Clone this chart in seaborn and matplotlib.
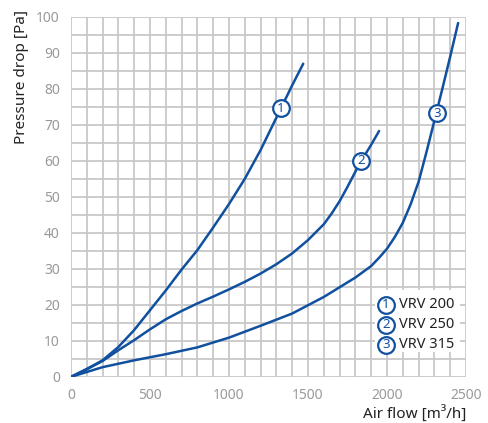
"""
Pressure drop vs. air flow for VRV 200 / 250 / 315 dampers
"""

import matplotlib
matplotlib.use("Agg")
import matplotlib.pyplot as plt
from matplotlib.patches import Rectangle
import numpy as np
import pandas as pd
import seaborn as sns

# Werte
flow_200 = [0, 100, 200, 300, 400, 500, 600, 700, 800, 900, 1000, 1100, 1200, 1250, 1300,
            1350, 1400, 1470]
dp_200 = [0, 2.2, 4.6, 8.3, 13, 18.5, 24, 29.8, 35.2, 41.5, 48, 55, 63, 67.5, 72,
          76.5, 81, 87]

flow_250 = [0, 100, 200, 300, 400, 500, 600, 700, 800, 900, 1000, 1100, 1200, 1300, 1400,
            1500, 1600, 1650, 1700, 1750, 1800, 1840, 1900, 1950]
dp_250 = [0, 2.1, 4.4, 7.4, 10.2, 13.2, 16, 18.3, 20.4, 22.3, 24.3, 26.4, 28.7, 31.3, 34.3,
          38, 42.4, 45.4, 48.8, 52.8, 57, 60.2, 64.5, 68.3]

flow_315 = [0, 200, 400, 600, 800, 1000, 1200, 1400, 1600, 1800, 1900, 1950, 2000, 2050,
            2100, 2150, 2200, 2250, 2300, 2350, 2400, 2450]
dp_315 = [0, 2.7, 4.6, 6.3, 8.2, 10.9, 14.2, 17.6, 22.2, 27.6, 30.8, 33.1, 35.6, 38.9,
          42.8, 48, 54.2, 62.5, 71.2, 80, 89, 98.3]

series_names = ["VRV 200", "VRV 250", "VRV 315"]
series_ids = ["1", "2", "3"]
label_flow = [1327, 1838, 2316]
label_dp = [74.6, 60.1, 73.3]

BLUE = "#11509f"
GRID = "#c8c8c8"
TICK = "#9a9a9a"


def main():
    sns.set_style("white")
    plt.rcParams["font.family"] = ["Noto Sans", "DejaVu Sans"]

    df = pd.concat([
        pd.DataFrame({"flow": flow_200, "dp": dp_200, "type": series_names[0]}),
        pd.DataFrame({"flow": flow_250, "dp": dp_250, "type": series_names[1]}),
        pd.DataFrame({"flow": flow_315, "dp": dp_315, "type": series_names[2]}),
    ])

    fig = plt.figure(figsize=(4.89, 4.23), dpi=100)
    ax = fig.add_axes([0.145, 0.109, 0.808, 0.851])

    sns.lineplot(data=df, x="flow", y="dp", hue="type", sort=False,
                 palette=[BLUE] * 3, linewidth=1.8, legend=False, ax=ax, zorder=3)

    # Kurvenbeschriftung (Kreis mit Nummer)
    for x, y, n in zip(label_flow, label_dp, series_ids):
        ax.plot(x, y, marker="o", ms=12, mfc="white", mec=BLUE, mew=1.6, zorder=5)
        ax.text(x, y, n, color=BLUE, fontsize=9.5, fontweight="bold",
                ha="center", va="center", zorder=6)

    # Achsen
    ax.set_xlim(0, 2500)
    ax.set_ylim(0, 100)
    ax.set_xticks(np.arange(0, 2501, 500))
    ax.set_xticks(np.arange(0, 2501, 100), minor=True)
    ax.set_yticks(np.arange(0, 101, 10))
    ax.set_yticks(np.arange(0, 101, 5), minor=True)
    ax.grid(True, which="both", color=GRID, linewidth=1.3, zorder=0)
    ax.set_axisbelow(True)
    for s in ax.spines.values():
        s.set_visible(False)
    ax.tick_params(which="major", length=5, width=1.3, color=GRID, labelcolor=TICK,
                   labelsize=10, pad=3)
    ax.tick_params(which="minor", length=0)

    ax.set_xlabel("Air flow [m³/h]", fontsize=11, color="#222222", loc="right")
    ax.xaxis.set_label_coords(1.0, -0.08)
    ax.xaxis.label.set_va("top")
    ax.set_ylabel("Pressure drop [Pa]", fontsize=11, color="#222222", loc="top")
    ax.yaxis.set_label_coords(-0.105, 1.02)

    # Legende
    ax.add_patch(Rectangle((0.77, 0.07), 0.215, 0.17, transform=ax.transAxes,
                           facecolor="white", edgecolor="none", zorder=2))
    for i, (n, name) in enumerate(zip(series_ids, series_names)):
        y = 0.2 - i * 0.0555
        ax.plot(0.797, y, marker="o", ms=12, mfc="white", mec=BLUE, mew=1.6,
                transform=ax.transAxes, zorder=5)
        ax.text(0.797, y, n, color=BLUE, fontsize=9.5, fontweight="bold",
                ha="center", va="center", transform=ax.transAxes, zorder=6)
        ax.text(0.83, y, name, color="#222222", fontsize=10.5,
                ha="left", va="center", transform=ax.transAxes, zorder=6)

    fig.savefig("out.png", dpi=100)
    plt.close(fig)


if __name__ == "__main__":
    main()
